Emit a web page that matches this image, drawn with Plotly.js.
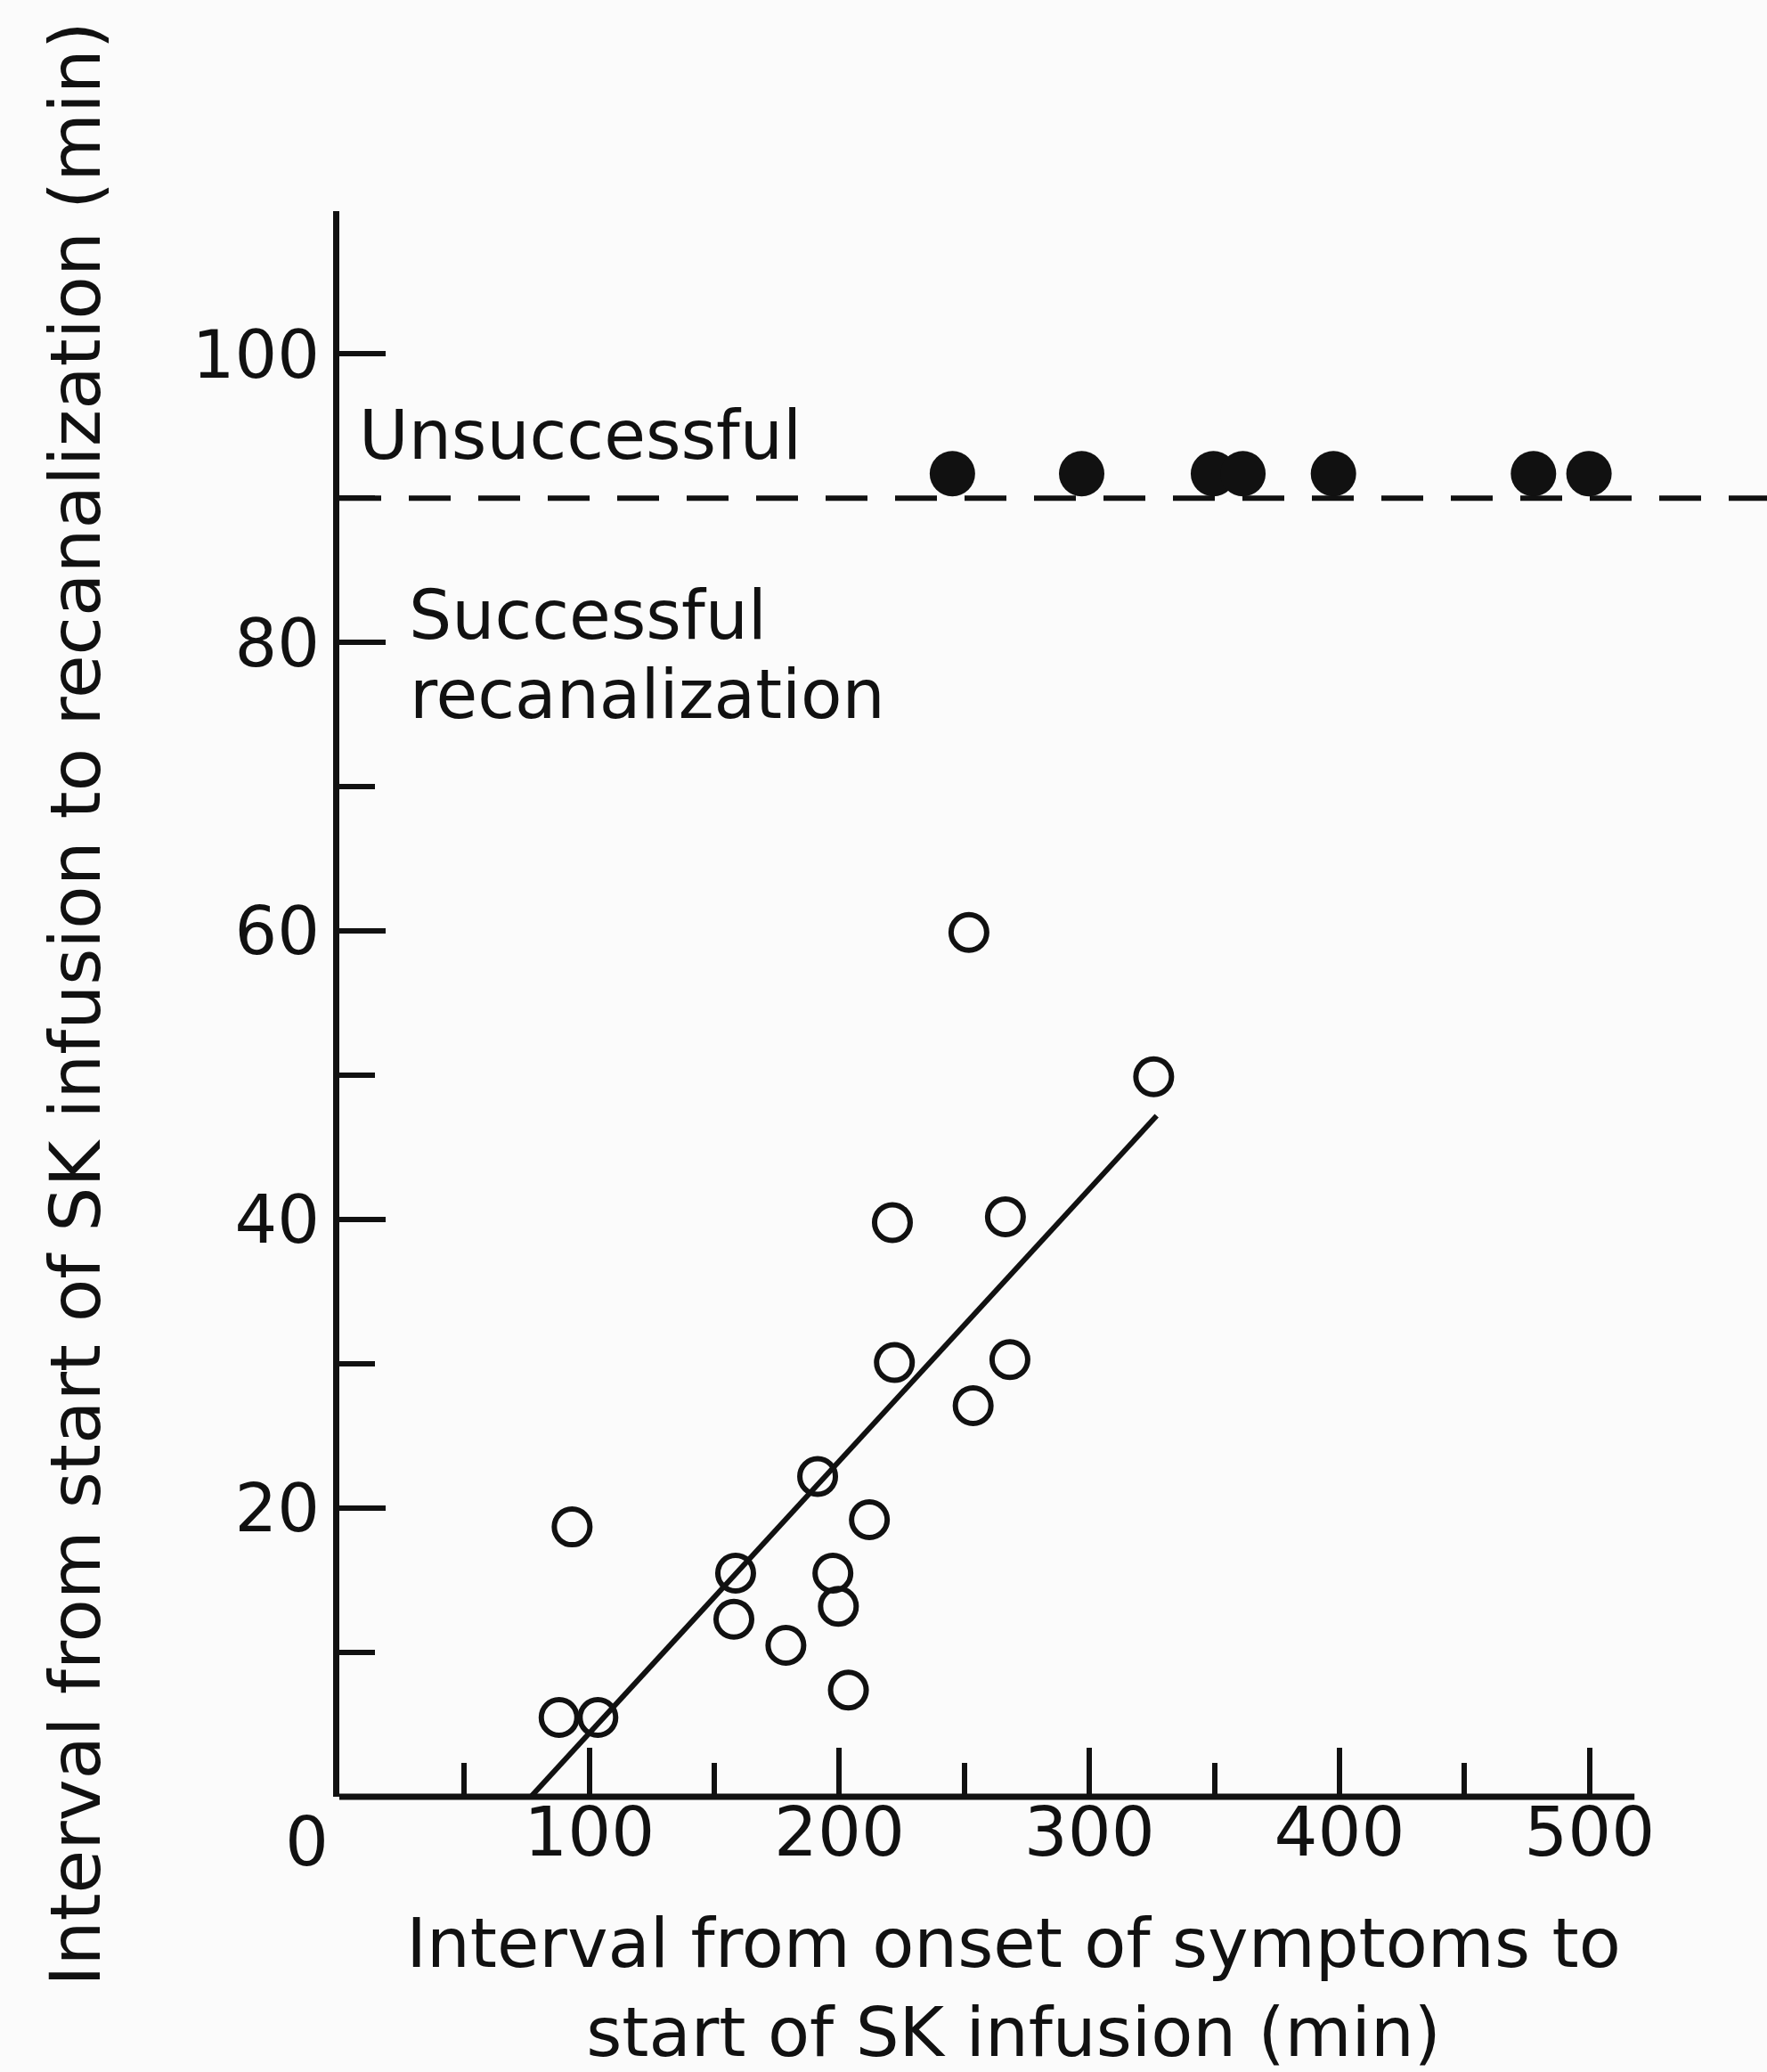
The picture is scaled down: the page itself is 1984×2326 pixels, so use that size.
<!DOCTYPE html>
<html>
<head>
<meta charset="utf-8">
<script src="https://cdn.plot.ly/plotly-3.0.1.min.js"></script>
<style>
  html, body { margin: 0; padding: 0; background: #fbfbfb; }
  #chart { width: 1984px; height: 2326px; }
</style>
</head>
<body>
<div id="chart"></div>
<script>
// ---- data ----
const successX = [251.8, 325.7, 221.2, 266.4, 222.0, 268.2, 253.5, 191.3, 93.1, 212.0, 158.5, 197.4, 157.8, 199.6, 178.6, 203.6, 87.9, 103.4];
const successY = [59.9, 49.9, 39.8, 40.2, 30.1, 30.3, 27.1, 22.2, 18.7, 19.2, 15.5, 15.5, 12.3, 13.2, 10.5, 7.4, 5.5, 5.5];
const failX = [245.2, 296.9, 349.6, 361.4, 397.6, 477.6, 499.8];
const failY = [91.7, 91.7, 91.7, 91.7, 91.7, 91.7, 91.7];
const fitX = [76.6, 326.9];
const fitY = [0, 47.2];
const threshold = 90;
const xAxisEnd = 518;

const xTickVals = [100, 200, 300, 400, 500];
const xTickText = ["100", "200", "300", "400", "500"];
const xMinorVals = [50, 150, 250, 350, 450];
const yTickVals = [20, 40, 60, 80, 100];
const yTickText = ["20", "40", "60", "80", "100"];
const yMinorVals = [10, 30, 50, 70, 90];

const labelUnsuccessful = "Unsuccessful";
const labelSuccess1 = "Successful";
const labelSuccess2 = "recanalization";
const originLabel = "0";
const xTitle = "Interval from onset of symptoms to<br>start of SK infusion (min)";
const yTitle = "Interval from start of SK infusion to recanalization (min)";

const ink = "#111111";
const FONT = "DejaVu Sans, Liberation Sans, sans-serif";

const traces = [
  {
    x: fitX, y: fitY, type: "scatter", mode: "lines",
    line: { color: ink, width: 6 }, hoverinfo: "skip", showlegend: false
  },
  {
    x: successX, y: successY, type: "scatter", mode: "markers",
    name: "Successful recanalization",
    marker: { symbol: "circle-open", size: 40, color: ink, line: { width: 6, color: ink } },
    cliponaxis: false, showlegend: false
  },
  {
    x: failX, y: failY, type: "scatter", mode: "markers",
    name: "Unsuccessful",
    marker: { symbol: "circle", size: 51, color: ink },
    cliponaxis: false, showlegend: false
  }
];

const layout = {
  width: 1984, height: 2326,
  paper_bgcolor: "#fbfbfb", plot_bgcolor: "rgba(0,0,0,0)",
  margin: { l: 381, r: 89, t: 237, b: 309, pad: 0 },
  font: { family: FONT, color: ink, size: 76 },
  showlegend: false,
  xaxis: {
    range: [0, 539.3], autorange: false,
    showline: false, showgrid: false, zeroline: false,
    tickmode: "array", tickvals: xTickVals, ticktext: xTickText,
    ticks: "inside", ticklen: 55, tickwidth: 6, tickcolor: ink,
    tickfont: { family: FONT, size: 77, color: ink },
    ticklabelstandoff: -12,
    minor: { tickmode: "array", tickvals: xMinorVals, ticks: "inside", ticklen: 38, tickwidth: 6, tickcolor: ink, showgrid: false },
    title: { text: xTitle, font: { family: FONT, size: 77, color: ink }, standoff: 90 }
  },
  yaxis: {
    range: [0, 109.9], autorange: false,
    showline: true, linewidth: 7, linecolor: ink,
    showgrid: false, zeroline: false,
    tickmode: "array", tickvals: yTickVals, ticktext: yTickText,
    ticks: "inside", ticklen: 52, tickwidth: 6, tickcolor: ink,
    tickfont: { family: FONT, size: 75, color: ink },
    minor: { tickmode: "array", tickvals: yMinorVals, ticks: "inside", ticklen: 40, tickwidth: 6, tickcolor: ink, showgrid: false },
    title: { text: yTitle, font: { family: FONT, size: 79, color: ink }, standoff: 80 }
  },
  shapes: [
    // x-axis line, ends short of the right edge as in the original
    { type: "line", xref: "x", yref: "paper", x0: 0, x1: xAxisEnd, y0: 0, y1: 0,
      line: { color: ink, width: 7 } },
    // dashed threshold line separating successful / unsuccessful
    { type: "line", xref: "paper", yref: "y", x0: 0, x1: 1.0588, y0: threshold, y1: threshold,
      line: { color: ink, width: 6, dash: "47px,31px" } }
  ],
  annotations: [
    { text: labelUnsuccessful, xref: "x", yref: "y", x: 7.1, y: 94.4, xanchor: "left", yanchor: "middle",
      showarrow: false, font: { family: FONT, size: 76, color: ink } },
    { text: labelSuccess1, xref: "x", yref: "y", x: 27.1, y: 81.9, xanchor: "left", yanchor: "middle",
      showarrow: false, font: { family: FONT, size: 76, color: ink } },
    { text: labelSuccess2, xref: "x", yref: "y", x: 27.6, y: 76.4, xanchor: "left", yanchor: "middle",
      showarrow: false, font: { family: FONT, size: 76, color: ink } },
    { text: originLabel, xref: "paper", yref: "paper", x: -0.0238, y: -0.0281, xanchor: "center", yanchor: "middle",
      showarrow: false, font: { family: FONT, size: 77, color: ink } }
  ]
};

Plotly.newPlot("chart", traces, layout, { displayModeBar: false, staticPlot: true });
</script>
</body>
</html>
